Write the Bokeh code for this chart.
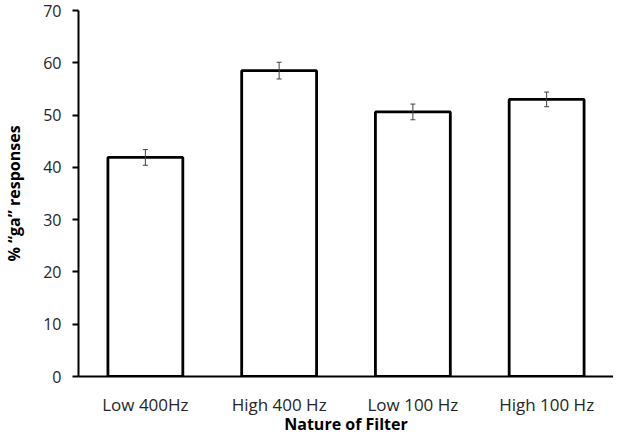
from bokeh.plotting import figure
from bokeh.models import ColumnDataSource, Whisker, FactorRange, TeeHead
from bokeh.embed import file_html
from bokeh.resources import INLINE

categories = ["Low 400Hz", "High 400 Hz", "Low 100 Hz", "High 100 Hz"]
values = [41.9, 58.5, 50.6, 53.0]
errors = [1.5, 1.6, 1.5, 1.4]
y_ticks = [0, 10, 20, 30, 40, 50, 60, 70]

src = ColumnDataSource(data=dict(
    cat=categories,
    val=values,
    upper=[v + e for v, e in zip(values, errors)],
    lower=[v - e for v, e in zip(values, errors)],
))

FONT = "Open Sans"

p = figure(x_range=FactorRange(factors=categories, range_padding=0),
           y_range=(0, 70), width=613, height=437,
           output_backend="svg", toolbar_location=None,
           min_border_left=73, min_border_right=0, min_border_top=10, min_border_bottom=0)

p.vbar(x="cat", top="val", width=0.56, source=src, fill_color="white",
       line_color="black", line_width=2.8)

w = Whisker(base="cat", upper="upper", lower="lower", source=src,
            line_color="#404040", line_width=1, level="overlay")
w.upper_head = TeeHead(size=5, line_color="#404040", line_width=1)
w.lower_head = TeeHead(size=5, line_color="#404040", line_width=1)
p.add_layout(w)

p.outline_line_color = None
p.grid.grid_line_color = None
p.background_fill_color = "white"

p.yaxis.ticker = y_ticks
p.yaxis.axis_line_width = 2
p.yaxis.axis_line_color = "black"
p.yaxis.major_tick_line_width = 2
p.yaxis.major_tick_line_color = "black"
p.yaxis.major_tick_out = 6
p.yaxis.major_tick_in = 0
p.yaxis.minor_tick_line_color = None
p.yaxis.major_label_standoff = 11
p.yaxis.major_label_text_font = FONT
p.yaxis.major_label_text_font_size = "16px"
p.yaxis.major_label_text_color = "#262626"
p.yaxis.axis_label = "% \u201cga\u201d responses"
p.yaxis.axis_label_text_font = FONT
p.yaxis.axis_label_text_font_style = "bold"
p.yaxis.axis_label_text_font_size = "16px"
p.yaxis.axis_label_text_color = "black"
p.yaxis.axis_label_standoff = 15

p.xaxis.axis_line_width = 2
p.xaxis.axis_line_color = "black"
p.xaxis.major_tick_line_color = None
p.xaxis.minor_tick_line_color = None
p.xaxis.major_label_standoff = 10
p.xaxis.major_label_text_font = FONT
p.xaxis.major_label_text_font_size = "17px"
p.xaxis.major_label_text_color = "#262626"
p.xaxis.axis_label = "Nature of Filter"
p.xaxis.axis_label_text_font = FONT
p.xaxis.axis_label_text_font_style = "bold"
p.xaxis.axis_label_text_font_size = "16px"
p.xaxis.axis_label_text_color = "black"
p.xaxis.axis_label_standoff = -6

open("out.html", "w").write(file_html(p, INLINE))
